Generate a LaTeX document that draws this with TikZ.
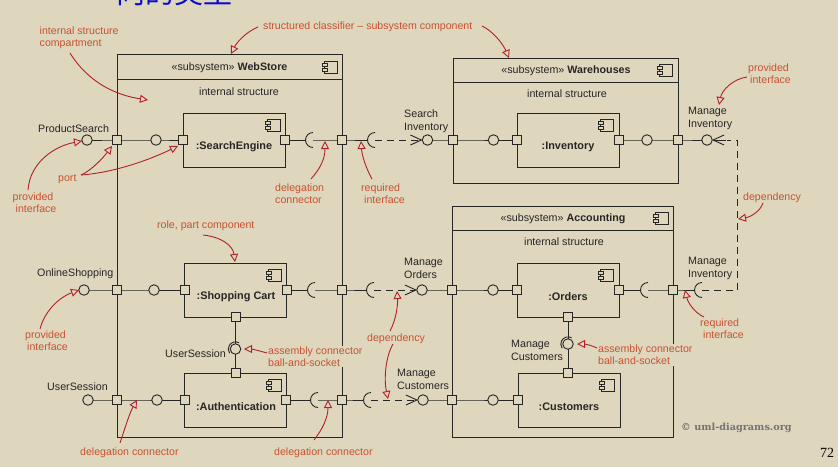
\documentclass[tikz,border=0pt]{standalone}
\usepackage{fontspec}
\setmainfont{Liberation Sans}
\newfontfamily\cjkfont{Noto Sans CJK SC}
\newfontfamily\slabfont{DejaVu Serif}
\newfontfamily\pagefont{Liberation Serif}
\usetikzlibrary{arrows.meta}
\definecolor{bgc}{RGB}{222,214,189}
\definecolor{inkc}{RGB}{38,38,36}
\definecolor{notec}{RGB}{200,82,48}
\definecolor{arrc}{RGB}{178,32,42}
\tikzset{
  line/.style={draw=inkc,line width=0.9pt},
  box/.style={line,fill=none},
  port/.style={line,fill=bgc,rectangle,minimum size=9pt,inner sep=0pt},
  ball/.style={line,fill=bgc,circle,minimum size=10.5pt,inner sep=0pt},
  txt/.style={text=inkc,font=\fontsize{10.7}{12.8}\selectfont,inner sep=0pt,align=left,yshift=-1pt},
  title/.style={txt,anchor=center},
  partname/.style={txt,anchor=center,font=\fontsize{10.9}{12.8}\selectfont\bfseries},
  note/.style={text=notec,font=\fontsize{10.6}{12}\selectfont,inner sep=0pt,align=left,anchor=west,yshift=-1pt},
  noteb/.style={note,fill=bgc,inner ysep=1pt,inner xsep=1pt},
  dep/.style={draw=inkc,line width=0.9pt,dash pattern=on 7pt off 5pt},
  deptip/.style={-{Straight Barb[length=11pt,width=10pt,line width=0.9pt]}},
  call/.style={draw=arrc,line width=0.9pt,-{Triangle[open,length=8pt,width=8pt,line width=0.9pt,fill=none]}},
  compicon/.pic={
    \draw[draw=inkc,line width=0.8pt] (-6,-6) rectangle (7,6);
    \draw[draw=inkc,line width=0.8pt,fill=bgc] (-8,-4) rectangle (-3,-1);
    \draw[draw=inkc,line width=0.8pt,fill=bgc] (-8,1) rectangle (-3,4);
  }
}
\newcommand{\socketat}[1]{\draw[line] (#1) ++(0,7.5) arc[start angle=90,end angle=270,radius=7.5];}
\newcommand{\ballsocketat}[1]{\draw[line] (#1) ++(3.6,-6.2) arc[start angle=-60,end angle=-215,radius=7.2];}
\begin{document}
\begin{tikzpicture}[x=1pt,y=-1pt]
\useasboundingbox (0,0) rectangle (838,467);
\fill[bgc] (0,0) rectangle (838,467);
\begin{scope}
\clip (0,0) rectangle (838,467);
\node[anchor=base west,inner sep=0pt,text={rgb,255:red,10;green,10;blue,205},font=\fontsize{29}{29}\cjkfont] (heading) at (116,3) {向的类型};
\end{scope}

% containers
\draw[box] (117,54) rectangle (342,437);
\draw[box] (117,79) -- (342,79);
\draw[box] (453,58) rectangle (678,183);
\draw[box] (453,82) -- (678,82);
\draw[box] (452,206) rectangle (673,437);
\draw[box] (452,230) -- (673,230);
\node[title] (t1) at (229.5,66.5) {«subsystem» \textbf{WebStore}};
\node[title] (t2) at (566,70) {«subsystem» \textbf{Warehouses}};
\node[title] (t3) at (563,217.5) {«subsystem» \textbf{Accounting}};
\node[title] (i1) at (239,90.5) {internal structure};
\node[title] (i2) at (567,92.5) {internal structure};
\node[title] (i3) at (564,240.5) {internal structure};
\pic at (330,67) {compicon};
\pic at (665,70) {compicon};
\pic at (661,218) {compicon};

% parts
\node[line,minimum width=102pt,minimum height=54pt,inner sep=0pt] (pse) at (234,140) {};
\node[line,minimum width=102pt,minimum height=54pt,inner sep=0pt] (psc) at (235.5,290) {};
\node[line,minimum width=102pt,minimum height=54pt,inner sep=0pt] (pau) at (235.5,400) {};
\node[line,minimum width=102pt,minimum height=54pt,inner sep=0pt] (pin) at (568,140) {};
\node[line,minimum width=102pt,minimum height=54pt,inner sep=0pt] (por) at (568,290) {};
\node[line,minimum width=102pt,minimum height=54pt,inner sep=0pt] (pcu) at (569,400) {};
\node[partname] (lse) at (234,146) {:SearchEngine};
\node[partname] (lsc) at (236,295.5) {:Shopping Cart};
\node[partname] (lau) at (236,405.5) {:Authentication};
\node[partname] (lin) at (568,146) {:Inventory};
\node[partname] (lor) at (568,295.5) {:Orders};
\node[partname] (lcu) at (569,405.5) {:Customers};
\pic at (273,125) {compicon};
\pic at (274,275) {compicon};
\pic at (274,385) {compicon};
\pic at (606,125) {compicon};
\pic at (606,275) {compicon};
\pic at (607,385) {compicon};

% anchors
\coordinate (s1) at (313,140);
\coordinate (s2) at (375,140);
\coordinate (s3) at (648,290);
\coordinate (s4) at (702,290);
\coordinate (s5) at (315,290);
\coordinate (s6) at (374,290);
\coordinate (s7) at (318,400);
\coordinate (s8) at (371,400);
\coordinate (bend1) at (737,140);
\coordinate (bend2) at (737,290);

% row 1 connectors
\draw[line] (87,140) -- (117,140) -- (156,140) -- (183,140);
\draw[line] (285,140) -- (305.5,140);
\draw[line] (s1) -- (342,140) -- (367.5,140);
\draw[line] (427,140) -- (453,140) -- (517,140);
\draw[line] (619,140) -- (678,140) -- (707,140);
\draw[dep,deptip] (s2) -- (422.5,140);
\draw[dep] (bend2) -- (bend1) -- (727,140);
\draw[line,-{Straight Barb[length=11pt,width=10pt,line width=0.9pt]}] (726,140) -- (712,140);
% row 2
\draw[line] (84,290) -- (117,290) -- (184.5,290);
\draw[line] (286.5,290) -- (307.5,290);
\draw[line] (s5) -- (342,290) -- (366.5,290);
\draw[dep,deptip] (s6) -- (417,290);
\draw[line] (422,290) -- (452,290) -- (517,290);
\draw[line] (619,290) -- (640.5,290);
\draw[line] (s3) -- (673,290) -- (694.5,290);
\draw[dep] (s4) -- (bend2);
% row 3
\draw[line] (88,400) -- (117,400) -- (184.5,400);
\draw[line] (286,400) -- (310.5,400);
\draw[line] (s7) -- (342,400) -- (363.5,400);
\draw[dep,deptip] (s8) -- (418,400);
\draw[line] (423,400) -- (452,400) -- (518,400);
% vertical
\draw[line] (235.5,317) -- (235.5,373);
\draw[line] (568,317) -- (568,373);

% sockets
\socketat{s1}\socketat{s2}\socketat{s3}\socketat{s4}\socketat{s5}\socketat{s6}\socketat{s7}\socketat{s8}

% balls
\node[ball] (b1) at (87,140) {};
\node[ball] (b2) at (156,140) {};
\node[ball] (b3) at (427.5,140) {};
\node[ball] (b4) at (493.5,140) {};
\node[ball] (b5) at (647,140) {};
\node[ball] (b6) at (707,140) {};
\node[ball] (b7) at (84,290) {};
\node[ball] (b8) at (154,290) {};
\node[ball] (b9) at (422,290) {};
\node[ball] (b10) at (493,290) {};
\node[ball] (b11) at (88,400) {};
\node[ball] (b12) at (157,400) {};
\node[ball] (b13) at (423,400) {};
\node[ball] (b14) at (493,400) {};
\node[ball] (b15) at (235.5,349) {};
\node[ball] (b16) at (568,344) {};
\ballsocketat{b15}
\ballsocketat{b16}

% ports
\node[port] (q1) at (117,140) {};
\node[port] (q2) at (183,140) {};
\node[port] (q3) at (285,140) {};
\node[port] (q4) at (342,140) {};
\node[port] (q5) at (453,140) {};
\node[port] (q6) at (517,140) {};
\node[port] (q7) at (619,140) {};
\node[port] (q8) at (678,140) {};
\node[port] (q9) at (117,290) {};
\node[port] (q10) at (184.5,290) {};
\node[port] (q11) at (286.5,290) {};
\node[port] (q12) at (342,290) {};
\node[port] (q13) at (452,290) {};
\node[port] (q14) at (517,290) {};
\node[port] (q15) at (619,290) {};
\node[port] (q16) at (673,290) {};
\node[port] (q17) at (235.5,317) {};
\node[port] (q18) at (568,317) {};
\node[port] (q19) at (235.5,373) {};
\node[port] (q20) at (568,373) {};
\node[port] (q21) at (117,400) {};
\node[port] (q22) at (184.5,400) {};
\node[port] (q23) at (286,400) {};
\node[port] (q24) at (342,400) {};
\node[port] (q25) at (452,400) {};
\node[port] (q26) at (518,400) {};

% interface labels
\node[txt,anchor=west] (a1) at (38,128) {ProductSearch};
\node[txt,anchor=west] (a2) at (404,120.5) {Search\\Inventory};
\node[txt,anchor=west] (a3) at (688,117.5) {Manage\\Inventory};
\node[txt,anchor=west] (a4) at (404,267.5) {Manage\\Orders};
\node[txt,anchor=west] (a5) at (688,267.5) {Manage\\Inventory};
\node[txt,anchor=west] (a6) at (37,273) {OnlineShopping};
\node[txt,anchor=west] (a7) at (165,352.5) {UserSession};
\node[txt,anchor=west] (a8) at (47,386) {UserSession};
\node[txt,anchor=west] (a9) at (397,378.5) {Manage\\Customers};
\node[txt,anchor=west] (a10) at (511,349.5) {Manage\\Customers};

% notes
\node[note] (n1) at (39.5,37) {internal structure\\compartment};
\node[note] (n2) at (263,26) {structured classifier – subsystem component};
\node[note] (n3) at (12.5,202) {provided\\\hspace*{3pt}interface};
\node[note] (n4) at (58,178) {port};
\node[note] (n5) at (275,193) {delegation\\connector};
\node[note] (n6) at (361,193) {required\\\hspace*{3pt}interface};
\node[note] (n7) at (157,225) {role, part component};
\node[note] (n8) at (25,340) {provided\\\hspace*{2pt}interface};
\node[noteb] (n9) at (267,355.5) {assembly connector\\ball-and-socket};
\node[note] (n10) at (80,452) {delegation connector};
\node[note] (n11) at (274,451.5) {delegation connector};
\node[note] (n12) at (367,337.5) {dependency};
\node[note] (n13) at (743,197) {dependency};
\node[note] (n14) at (748,73) {provided\\\hspace*{2pt}interface};
\node[note] (n15) at (700,328) {required\\\hspace*{3pt}interface};
\node[noteb] (n16) at (597,354) {assembly connector\\ball-and-socket};

% callout targets
\coordinate (c1) at (148,100);
\coordinate (c2) at (231,54);
\coordinate (c3) at (509,58);
\coordinate (c4) at (82,141);
\coordinate (c5) at (112,146);
\coordinate (c6) at (178,146);
\coordinate (c7) at (325,141);
\coordinate (c8) at (361,141);
\coordinate (c9) at (235,262);
\coordinate (c10) at (79,290);
\coordinate (c11) at (244,349);
\coordinate (c12) at (137,400);
\coordinate (c13) at (328,400);
\coordinate (c14) at (397,291);
\coordinate (c15) at (388,399);
\coordinate (c16) at (738,219);
\coordinate (c17) at (719,105);
\coordinate (c18) at (685,290);
\coordinate (c19) at (577,344);

% callouts
\draw[call] (70,53) .. controls (88,82) and (115,95) .. (c1);
\draw[call] (258,27) .. controls (246,32) and (237,42) .. (c2);
\draw[call] (482,26) .. controls (493,31) and (503,44) .. (c3);
\draw[call] (28,190) .. controls (30,162) and (55,146) .. (c4);
\draw[call] (81,175) .. controls (92,170) and (103,158) .. (c5);
\draw[call] (81,175) .. controls (110,173) and (145,162) .. (c6);
\draw[call] (311,179) .. controls (319,170) and (325,160) .. (c7);
\draw[call] (372,179) .. controls (366,168) and (362,156) .. (c8);
\draw[call] (203,235) .. controls (222,237) and (233,246) .. (c9);
\draw[call] (40,329) .. controls (45,310) and (60,297) .. (c10);
\draw[call] (267,353) .. controls (260,351) and (252,349) .. (c11);
\draw[call] (120,443) .. controls (125,428) and (130,412) .. (c12);
\draw[call] (314,440) .. controls (322,430) and (328,418) .. (c13);
\draw[call] (390,331) .. controls (396,320) and (398,305) .. (c14);
\draw[call] (393,344) .. controls (385,358) and (384,380) .. (c15);
\draw[call] (763,203) .. controls (760,212) and (750,217) .. (c16);
\draw[call] (747,77) .. controls (733,79) and (722,90) .. (c17);
\draw[call] (704,317) .. controls (695,313) and (688,303) .. (c18);
\draw[call] (597,348) .. controls (591,345) and (584,344) .. (c19);

% footer
\node[inner sep=0pt,anchor=west,text=black!55,font=\fontsize{9.7}{12}\slabfont\bfseries] (wm) at (681,427.5) {© uml-diagrams.org};
\node[inner sep=0pt,text=black,font=\fontsize{14}{14}\pagefont] (pg) at (827,453) {72};
\end{tikzpicture}
\end{document}
